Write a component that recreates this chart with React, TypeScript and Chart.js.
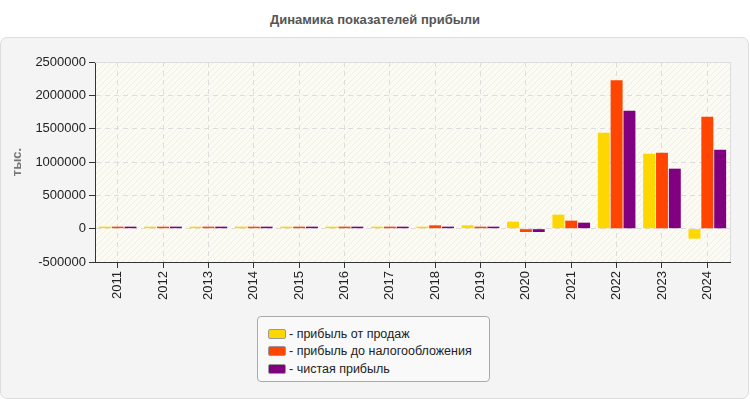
import React, { useEffect, useRef } from "react";
import { Chart, registerables } from "chart.js";

Chart.register(...registerables);

const years = ["2011", "2012", "2013", "2014", "2015", "2016", "2017", "2018", "2019", "2020", "2021", "2022", "2023", "2024"];
const salesProfit = [30000, 30000, 30000, 30000, 30000, 30000, 30000, 30000, 50000, 105000, 210000, 1440000, 1125000, -150000];
const pretaxProfit = [30000, 30000, 30000, 30000, 30000, 30000, 30000, 50000, 30000, -50000, 120000, 2225000, 1140000, 1680000];
const netProfit = [30000, 30000, 30000, 30000, 30000, 30000, 30000, 30000, 30000, -50000, 90000, 1770000, 900000, 1185000];

const seriesNames = ["прибыль от продаж", "прибыль до налогообложения", "чистая прибыль"];
const seriesColors = ["#ffd700", "#ff4500", "#800080"];

const FONT = "Arial, 'Liberation Sans', sans-serif";

const makeHatch = () => {
  const c = document.createElement("canvas");
  c.width = 6;
  c.height = 6;
  const ctx = c.getContext("2d")!;
  ctx.fillStyle = "#fbfbf4";
  ctx.fillRect(0, 0, 6, 6);
  ctx.strokeStyle = "#eeeeea";
  ctx.lineWidth = 1;
  ctx.beginPath();
  ctx.moveTo(0, 6);
  ctx.lineTo(6, 0);
  ctx.moveTo(-3, 3);
  ctx.lineTo(3, -3);
  ctx.moveTo(3, 9);
  ctx.lineTo(9, 3);
  ctx.stroke();
  return c;
};

const plotBackground = {
  id: "plotBackground",
  beforeDraw(chart: Chart) {
    const { ctx, chartArea } = chart;
    if (!chartArea) return;
    ctx.save();
    const pat = ctx.createPattern(makeHatch(), "repeat");
    if (pat) ctx.fillStyle = pat;
    ctx.fillRect(chartArea.left, chartArea.top, chartArea.right - chartArea.left, chartArea.bottom - chartArea.top);
    ctx.restore();
  },
  afterDraw(chart: Chart) {
    const { ctx, chartArea } = chart;
    ctx.save();
    ctx.strokeStyle = "#dddddd";
    ctx.lineWidth = 1;
    ctx.beginPath();
    ctx.moveTo(chartArea.left, chartArea.top + 0.5);
    ctx.lineTo(chartArea.right + 0.5, chartArea.top + 0.5);
    ctx.lineTo(chartArea.right + 0.5, chartArea.bottom);
    ctx.stroke();
    ctx.restore();
  },
};

const ProfitChart: React.FC = () => {
  const chartRef = useRef<HTMLCanvasElement>(null);
  const chartInstance = useRef<Chart | null>(null);

  useEffect(() => {
    document.body.style.margin = "0";
    if (!chartRef.current) return;
    if (chartInstance.current) chartInstance.current.destroy();

    const values = [salesProfit, pretaxProfit, netProfit];

    chartInstance.current = new Chart(chartRef.current, {
      type: "bar",
      data: {
        labels: years,
        datasets: values.map((data, i) => ({
          label: seriesNames[i],
          data,
          backgroundColor: seriesColors[i],
          borderWidth: 0,
          barPercentage: 0.93,
          categoryPercentage: 0.85,
        })),
      },
      options: {
        responsive: false,
        animation: false,
        layout: { padding: { left: 0, right: 20, top: 62, bottom: 88 } },
        plugins: {
          legend: { display: false },
          tooltip: { enabled: false },
        },
        scales: {
          x: {
            offset: true,
            grid: {
              offset: false,
              color: "#dddddd",
              tickColor: "#333333",
              tickBorderDash: [],
              tickLength: 6,
            },
            border: { color: "#333333", width: 1, dash: [5, 4] },
            ticks: {
              minRotation: 90,
              maxRotation: 90,
              color: "#222222",
              font: { family: FONT, size: 13 },
              padding: 3,
            },
            afterFit: (scale: any) => {
              scale.height = 50;
            },
          },
          y: {
            min: -500000,
            max: 2500000,
            grid: {
              color: "#dddddd",
              tickColor: "#333333",
              tickBorderDash: [],
              tickLength: 6,
            },
            border: { color: "#333333", width: 1, dash: [5, 4] },
            ticks: {
              stepSize: 500000,
              color: "#222222",
              font: { family: FONT, size: 13 },
              padding: 3,
              callback: (value: any) => String(value),
            },
            title: {
              display: true,
              text: "тыс.",
              color: "#777777",
              font: { family: FONT, size: 13, weight: "bold" },
              padding: { top: 10, bottom: 0 },
            },
            afterFit: (scale: any) => {
              scale.width = 95;
            },
          },
        },
      } as any,
      plugins: [plotBackground],
    });

    return () => {
      chartInstance.current?.destroy();
    };
  }, []);

  return <canvas ref={chartRef} width={750} height={400} style={{ position: "absolute", left: 0, top: 0 }} />;
};

const App: React.FC = () => {
  return (
    <div style={{ position: "relative", width: 750, height: 400, background: "#ffffff", fontFamily: FONT, overflow: "hidden" }}>
      <div
        style={{
          position: "absolute",
          left: 0,
          top: 12,
          width: 750,
          textAlign: "center",
          fontSize: 13,
          fontWeight: "bold",
          color: "#555555",
        }}
      >
        Динамика показателей прибыли
      </div>
      <div
        style={{
          position: "absolute",
          left: 0,
          top: 37,
          width: 747,
          height: 360,
          background: "#f4f4f4",
          border: "1px solid #dddddd",
          borderRadius: 7,
        }}
      />
      <ProfitChart />
      <div
        style={{
          position: "absolute",
          left: 257,
          top: 316,
          width: 233,
          height: 66,
          background: "#f9f9f9",
          border: "1px solid #aaaaaa",
          borderRadius: 4,
          boxSizing: "border-box",
          paddingTop: 8,
          paddingLeft: 10,
        }}
      >
        {seriesNames.map((name, i) => (
          <div key={name} style={{ display: "flex", alignItems: "center", height: 17.5, fontSize: 12.5, color: "#222222" }}>
            <span
              style={{
                display: "inline-block",
                width: 16,
                height: 8,
                background: seriesColors[i],
                border: "1px solid #999999",
                borderRadius: 2,
                marginRight: 3,
              }}
            />
            <span>- {name}</span>
          </div>
        ))}
      </div>
    </div>
  );
};

export default App;
